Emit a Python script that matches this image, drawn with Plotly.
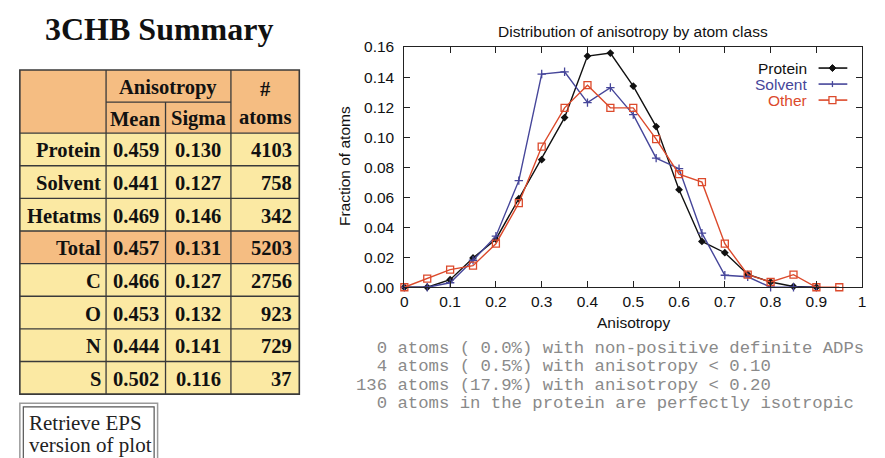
import plotly.graph_objects as go

# ---------------- data ----------------
anisotropy_bins = [0, 0.05, 0.1, 0.15, 0.2, 0.25, 0.3, 0.35, 0.4, 0.45, 0.5,
                   0.55, 0.6, 0.65, 0.7, 0.75, 0.8, 0.85, 0.9, 0.95]
protein = [0, 0, 0.005, 0.0195, 0.032, 0.059, 0.085, 0.113, 0.154, 0.156, 0.134,
           0.107, 0.065, 0.0305, 0.023, 0.0085, 0.0035, 0.0005, 0]
solvent = [0, 0, 0.003, 0.018, 0.034, 0.071, 0.142, 0.1435, 0.123, 0.133, 0.115,
           0.086, 0.079, 0.036, 0.008, 0.007, 0, 0, 0]
other = [0, 0.0058, 0.0117, 0.0144, 0.029, 0.056, 0.0936, 0.1195, 0.1346, 0.1195, 0.1195,
         0.0987, 0.0753, 0.070, 0.029, 0.0084, 0.0035, 0.0084, 0, 0]
series_names = ["Protein", "Solvent", "Other"]
series_colors = ["#111111", "#46469a", "#dc4a2c"]

x_tickvals = [0, 0.1, 0.2, 0.3, 0.4, 0.5, 0.6, 0.7, 0.8, 0.9, 1.0]
x_ticktext = ["0", "0.1", "0.2", "0.3", "0.4", "0.5", "0.6", "0.7", "0.8", "0.9", "1"]

row_labels = ["Protein", "Solvent", "Hetatms", "Total", "C", "O", "N", "S"]
mean_vals = ["0.459", "0.441", "0.469", "0.457", "0.466", "0.453", "0.444", "0.502"]
sigma_vals = ["0.130", "0.127", "0.146", "0.131", "0.127", "0.132", "0.141", "0.116"]
n_atoms = [4103, 758, 342, 5203, 2756, 923, 729, 37]

stats_lines = [
    "  0 atoms ( 0.0%) with non-positive definite ADPs",
    "  4 atoms ( 0.5%) with anisotropy < 0.10",
    "136 atoms (17.9%) with anisotropy < 0.20",
    "  0 atoms in the protein are perfectly isotropic",
]

W, H = 885, 458
Y_OFF, Y_SCALE = 8, 0.962   # calibration of the vertical placement


def px(x):
    return x / W


def py(y):
    return 1 - ((y - Y_OFF) / Y_SCALE) / H


fig = go.Figure()

markers = [
    dict(symbol="diamond", size=6, color=series_colors[0]),
    dict(symbol="cross-thin", size=6, color=series_colors[1],
         line=dict(width=1.3, color=series_colors[1])),
    dict(symbol="square-open", size=7, color=series_colors[2],
         line=dict(width=1.3, color=series_colors[2])),
]
for name, vals, col, mk in zip(series_names, [protein, solvent, other], series_colors, markers):
    fig.add_trace(go.Scatter(
        x=anisotropy_bins[:len(vals)], y=vals, name=name, mode="lines+markers",
        line=dict(color=col, width=1.4), marker=mk, cliponaxis=False, showlegend=False,
    ))

chart_font = "Liberation Sans, Arial, sans-serif"
axis_common = dict(showgrid=False, zeroline=False, showline=True, linecolor="#222",
                   linewidth=1, mirror="allticks", ticks="inside", ticklen=6,
                   tickcolor="#222", tickfont=dict(family=chart_font, size=15.5, color="#111"))
fig.update_xaxes(range=[0, 1], tickvals=x_tickvals, ticktext=x_ticktext,
                 domain=[px(404), px(866)], **axis_common)
fig.update_yaxes(range=[0, 0.16], dtick=0.02, tickformat=".2f", ticklabelstandoff=6,
                 domain=[py(286), py(46)], **axis_common)

shapes = []
annotations = []

# chart title & axis titles
annotations.append(dict(text="Distribution of anisotropy by atom class", x=px(635), y=py(30),
                        xref="paper", yref="paper", showarrow=False, xanchor="center", yanchor="middle",
                        font=dict(family=chart_font, size=15.5, color="#111")))
annotations.append(dict(text="Anisotropy", x=px(635), y=py(321), xref="paper", yref="paper",
                        showarrow=False, xanchor="center", yanchor="middle",
                        font=dict(family=chart_font, size=15.5, color="#111")))
annotations.append(dict(text="Fraction of atoms", x=px(343), y=py(165), xref="paper", yref="paper",
                        showarrow=False, xanchor="center", yanchor="middle", textangle=-90,
                        font=dict(family=chart_font, size=15.5, color="#111")))

# custom legend (text right, sample to the right)
leg_y = [67, 83, 99]
for i, (name, col) in enumerate(zip(series_names, series_colors)):
    yy = leg_y[i]
    annotations.append(dict(text=name, x=px(812), y=py(yy), xref="paper", yref="paper",
                            showarrow=False, xanchor="right", yanchor="middle",
                            font=dict(family=chart_font, size=15.5, color=col)))
    shapes.append(dict(type="line", xref="paper", yref="paper", x0=px(822), x1=px(851),
                       y0=py(yy), y1=py(yy), line=dict(color=col, width=1.6)))
    cx = 836
    if i == 0:
        shapes.append(dict(type="path", xref="paper", yref="paper",
                           path=f"M {px(cx-3.5)},{py(yy)} L {px(cx)},{py(yy-3.5)} L {px(cx+3.5)},{py(yy)} L {px(cx)},{py(yy+3.5)} Z",
                           fillcolor=col, line=dict(color=col, width=1)))
    elif i == 1:
        shapes.append(dict(type="line", xref="paper", yref="paper", x0=px(cx), x1=px(cx),
                           y0=py(yy - 3), y1=py(yy + 3), line=dict(color=col, width=1.3)))
    else:
        shapes.append(dict(type="rect", xref="paper", yref="paper", x0=px(cx - 3.5), x1=px(cx + 3.5),
                           y0=py(yy + 3.5), y1=py(yy - 3.5), fillcolor="white",
                           line=dict(color=col, width=1.3)))

# stats text block
mono = "Liberation Mono, Courier New, monospace"
stats_y = [347, 365.5, 384, 402.5]
for line, yy in zip(stats_lines, stats_y):
    annotations.append(dict(text=line.replace(" ", "\u00a0"), x=px(353), y=py(yy), xref="paper",
                            yref="paper", showarrow=False, xanchor="left", yanchor="middle",
                            font=dict(family=mono, size=17.3, color="#8a8a8a")))

# ---------------- table ----------------
serif = "Liberation Serif, Times New Roman, serif"
orange = "#f5bd82"
yellow = "#fbe9a3"
border = "#3a3a3a"
col_edges = [16, 103, 163, 229, 298]
head_top, head_mid, head_bot = 69, 101, 132
row_h = 32.6
n_rows = len(row_labels)
table_bot = head_bot + n_rows * row_h

annotations.append(dict(text="<b>3CHB Summary</b>", x=px(156), y=py(28), xref="paper", yref="paper",
                        showarrow=False, xanchor="center", yanchor="middle",
                        font=dict(family=serif, size=32, color="#111")))

shapes.append(dict(type="rect", xref="paper", yref="paper", x0=px(col_edges[0]), x1=px(col_edges[-1]),
                   y0=py(head_bot), y1=py(head_top), fillcolor=orange, line=dict(width=0), layer="below"))
for r in range(n_rows):
    top = head_bot + r * row_h
    fill = orange if row_labels[r] == "Total" else yellow
    shapes.append(dict(type="rect", xref="paper", yref="paper", x0=px(col_edges[0]), x1=px(col_edges[-1]),
                       y0=py(top + row_h), y1=py(top), fillcolor=fill, line=dict(width=0), layer="below"))


def hline(y, x0, x1, w=1.3):
    shapes.append(dict(type="line", xref="paper", yref="paper", x0=px(x0), x1=px(x1),
                       y0=py(y), y1=py(y), line=dict(color=border, width=w)))


def vline(x, y0, y1, w=1.3):
    shapes.append(dict(type="line", xref="paper", yref="paper", x0=px(x), x1=px(x),
                       y0=py(y0), y1=py(y1), line=dict(color=border, width=w)))


hline(head_mid, col_edges[1], col_edges[3])
for r in range(n_rows):
    hline(head_bot + r * row_h, col_edges[0], col_edges[-1])
vline(col_edges[1], head_top, table_bot)
vline(col_edges[2], head_mid, table_bot)
vline(col_edges[3], head_top, table_bot)
shapes.append(dict(type="rect", xref="paper", yref="paper", x0=px(col_edges[0]), x1=px(col_edges[-1]),
                   y0=py(table_bot), y1=py(head_top), line=dict(color=border, width=1.6)))


def cell_text(txt, x, y, anchor="center", size=20.5):
    annotations.append(dict(text=f"<b>{txt}</b>", x=px(x), y=py(y), xref="paper", yref="paper",
                            showarrow=False, xanchor=anchor, yanchor="middle",
                            font=dict(family=serif, size=size, color="#111")))


cell_text("Anisotropy", (col_edges[1] + col_edges[3]) / 2, (head_top + head_mid) / 2 + 1)
cell_text("Mean", (col_edges[1] + col_edges[2]) / 2, (head_mid + head_bot) / 2 + 1)
cell_text("Sigma", (col_edges[2] + col_edges[3]) / 2, (head_mid + head_bot) / 2 + 1)
cell_text("#", (col_edges[3] + col_edges[4]) / 2, 88)
cell_text("atoms", (col_edges[3] + col_edges[4]) / 2, 116)
for r in range(n_rows):
    yc = head_bot + (r + 0.5) * row_h + 1
    cell_text(row_labels[r], col_edges[1] - 3, yc, anchor="right")
    cell_text(mean_vals[r], (col_edges[1] + col_edges[2]) / 2, yc)
    cell_text(sigma_vals[r], (col_edges[2] + col_edges[3]) / 2, yc)
    cell_text(str(n_atoms[r]), col_edges[4] - 5, yc, anchor="right")

# retrieve box
shapes.append(dict(type="rect", xref="paper", yref="paper", x0=px(16), x1=px(155),
                   y0=py(480), y1=py(402), line=dict(color="#9a9a9a", width=1.5)))
shapes.append(dict(type="rect", xref="paper", yref="paper", x0=px(19.5), x1=px(151.5),
                   y0=py(480), y1=py(405.5), line=dict(color="#555", width=1.2)))
for txt, yy in zip(["Retrieve EPS", "version of plot"], [422, 444]):
    annotations.append(dict(text=txt, x=px(23), y=py(yy), xref="paper", yref="paper",
                            showarrow=False, xanchor="left", yanchor="middle",
                            font=dict(family=serif, size=21, color="#222")))

fig.update_layout(
    width=W, height=H, autosize=False,
    margin=dict(l=0, r=0, t=0, b=0),
    paper_bgcolor="white", plot_bgcolor="white",
    shapes=shapes, annotations=annotations, showlegend=False,
)

fig.write_html("out.html")
